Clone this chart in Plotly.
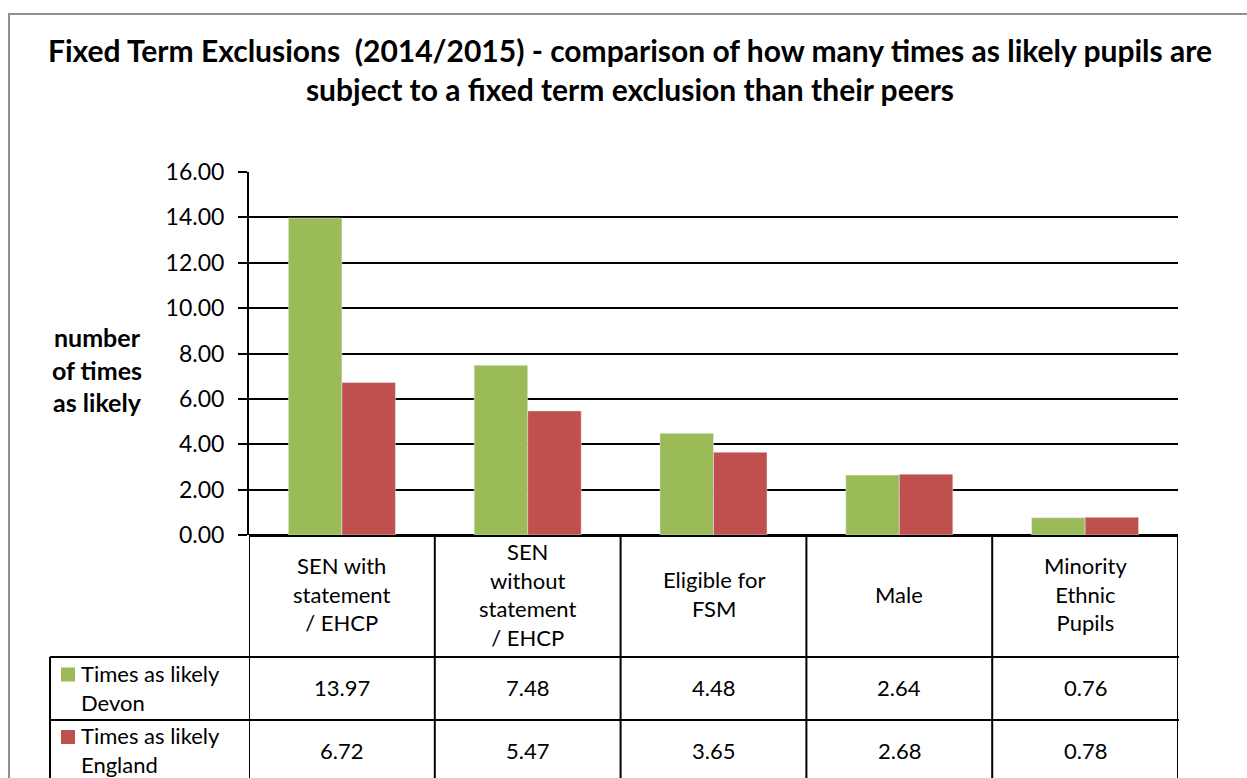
import plotly.graph_objects as go

# ---- data ----
categories = ["SEN with<br>statement<br>/ EHCP", "SEN<br>without<br>statement<br>/ EHCP",
              "Eligible for<br>FSM", "Male", "Minority<br>Ethnic<br>Pupils"]
devon = [13.97, 7.48, 4.48, 2.64, 0.76]
england = [6.72, 5.47, 3.65, 2.68, 0.78]
series_names = ["Times as likely<br>Devon", "Times as likely<br>England"]
y_ticks = [0, 2, 4, 6, 8, 10, 12, 14, 16]

GREEN = "#9BBB59"
RED = "#C0504D"
W, H = 1247, 778
OFF = 0  # page body margin removed via post_script
FONT = "Lato"


def px(x):
    return (x - OFF) / W


def py(y):
    return 1 - (y - OFF) / H


x_idx = list(range(len(categories)))

fig = go.Figure()
fig.add_trace(go.Bar(x=x_idx, y=devon, marker_color=GREEN, name="Devon", showlegend=False))
fig.add_trace(go.Bar(x=x_idx, y=england, marker_color=RED, name="England", showlegend=False))

shapes = []
annotations = []

# outer chart border
shapes.append(dict(type="rect", xref="paper", yref="paper", x0=px(9), x1=1.05, y0=py(14), y1=-0.05,
                   line=dict(color="#8f8f8f", width=2), layer="below"))

# table geometry
row_top = 535
hdr_bot = 657
r1_bot = 720
r2_bot = 800
left_x = 50

# vertical category boundaries
for i in range(len(categories) + 1):
    shapes.append(dict(type="line", xref="x", yref="paper", x0=i - 0.5, x1=i - 0.5,
                       y0=py(row_top), y1=py(r2_bot), line=dict(color="black", width=2)))
# left border of legend column
shapes.append(dict(type="line", xref="paper", yref="paper", x0=px(left_x), x1=px(left_x),
                   y0=py(hdr_bot), y1=py(r2_bot), line=dict(color="black", width=2)))
# horizontal row lines
for yy in [hdr_bot, r1_bot]:
    shapes.append(dict(type="line", xref="paper", yref="paper", x0=px(left_x), x1=px(1179),
                       y0=py(yy), y1=py(yy), line=dict(color="black", width=2)))

# header category labels
for i, c in enumerate(categories):
    annotations.append(dict(x=i, y=py((row_top + hdr_bot) / 2 - 2), xref="x", yref="paper", text=c,
                            showarrow=False, xanchor="center", yanchor="middle",
                            font=dict(family=FONT, size=22, color="black")))

# value rows
rows = [(devon, GREEN, (hdr_bot + r1_bot) / 2 - 1), (england, RED, (r1_bot + 784) / 2 - 2)]
for k, (vals, col, yc) in enumerate(rows):
    for i, v in enumerate(vals):
        annotations.append(dict(x=i, y=py(yc), xref="x", yref="paper", text=f"{v:.2f}",
                                showarrow=False, xanchor="center", yanchor="middle",
                                font=dict(family=FONT, size=22, color="black")))
    # legend key
    shapes.append(dict(type="rect", xref="paper", yref="paper", x0=px(61), x1=px(75),
                       y0=py(yc - 20), y1=py(yc - 6), fillcolor=col, line=dict(width=0)))
    annotations.append(dict(x=px(79), y=py(yc), xref="paper", yref="paper", text=series_names[k],
                            showarrow=False, xanchor="left", yanchor="middle", align="left",
                            font=dict(family=FONT, size=22, color="black")))

# y-axis title
annotations.append(dict(x=px(97), y=py(369), xref="paper", yref="paper",
                        text="<b>number<br>of times<br>as likely</b>", showarrow=False,
                        xanchor="center", yanchor="middle", align="center",
                        font=dict(family=FONT, size=25, color="black")))

# chart title
annotations.append(dict(x=px(630), y=py(69), xref="paper", yref="paper",
                        text="<b>Fixed Term Exclusions  (2014/2015) - comparison of how many times as likely pupils are<br>subject to a fixed term exclusion than their peers</b>",
                        showarrow=False, xanchor="center", yanchor="middle", align="center",
                        font=dict(family=FONT, size=30, color="black")))

fig.update_layout(
    width=W, height=H, autosize=False,
    margin=dict(l=0, r=0, t=0, b=0, autoexpand=False),
    paper_bgcolor="white", plot_bgcolor="white",
    barmode="group", bargap=0.424, bargroupgap=0,
    xaxis=dict(domain=[px(249), px(1178)], range=[-0.5, 4.5], showticklabels=False,
               showgrid=False, zeroline=False, showline=False, fixedrange=True,
               automargin=False),
    yaxis=dict(domain=[py(535), py(172)], range=[0, 16], tickvals=y_ticks, tickformat=".2f",
               showgrid=True, gridcolor="black", gridwidth=1.5,
               showline=True, linecolor="black", linewidth=2,
               ticks="outside", ticklen=9, tickwidth=2, tickcolor="black",
               ticklabelstandoff=9, automargin=False,
               zeroline=True, zerolinecolor="black", zerolinewidth=2.5,
               tickfont=dict(family=FONT, size=23, color="black")),
    shapes=shapes, annotations=annotations,
    showlegend=False,
)

fig.write_html("out.html", config={"displayModeBar": False},
               post_script="document.body.style.margin='0';document.body.style.overflow='hidden';")
